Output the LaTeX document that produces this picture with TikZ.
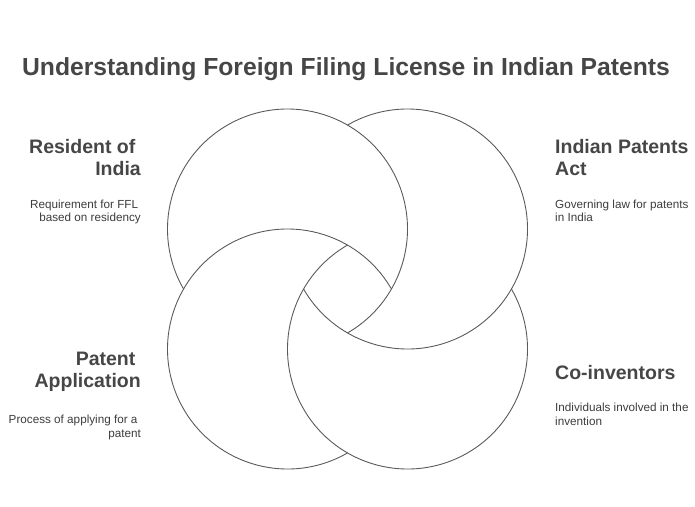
\documentclass[tikz,border=0pt]{standalone}
\usepackage{fontspec}
\setmainfont{Liberation Sans}
\definecolor{ringcol}{HTML}{5A5A5A}
\definecolor{headcol}{HTML}{464646}
\definecolor{desccol}{HTML}{3C3C3C}
\tikzset{
  ring/.style={draw=ringcol, line width=0.9pt},
  titletext/.style={inner sep=0pt, text=headcol, font=\bfseries\fontsize{24.7}{30}\selectfont},
  headtext/.style={inner sep=0pt, text=headcol, font=\bfseries\fontsize{19.5}{23}\selectfont},
  desctext/.style={inner sep=0pt, text=desccol, font=\fontsize{11.7}{14}\selectfont},
}
\begin{document}
\begin{tikzpicture}[x=1pt, y=-1pt]
\useasboundingbox (0,0) rectangle (695,506);
% centres
\coordinate (TL) at (287.5,229);
\coordinate (TR) at (407.5,229);
\coordinate (BL) at (287.5,349);
\coordinate (BR) at (407.5,349);
% interlocking rings (each hides one quarter)
\draw[ring] (TL) ++(150:120) arc[start angle=150, end angle=420, radius=120];
\draw[ring] (TR) ++(240:120) arc[start angle=240, end angle=510, radius=120];
\draw[ring] (BR) ++(-30:120) arc[start angle=-30, end angle=240, radius=120];
\draw[ring] (BL) ++(60:120) arc[start angle=60, end angle=330, radius=120];
% title
\node[titletext, anchor=base] (title) at (346,75) {Understanding Foreign Filing License in Indian Patents};
% top left
\node[headtext, anchor=base east] (h1a) at (135.6,153.5) {Resident of};
\node[headtext, anchor=base east] (h1b) at (141,175.5) {India};
\node[desctext, anchor=base east] (d1a) at (138.3,208) {Requirement for FFL};
\node[desctext, anchor=base east] (d1b) at (141,221.5) {based on residency};
% top right
\node[headtext, anchor=base west] (h2a) at (555,153.5) {Indian Patents};
\node[headtext, anchor=base west] (h2b) at (555,175.5) {Act};
\node[desctext, anchor=base west] (d2a) at (555,208) {Governing law for patents};
\node[desctext, anchor=base west] (d2b) at (555,221.5) {in India};
% bottom left
\node[headtext, anchor=base east] (h3a) at (135.6,365.5) {Patent};
\node[headtext, anchor=base east] (h3b) at (141,387) {Application};
\node[desctext, anchor=base east] (d3a) at (137.7,423) {Process of applying for a};
\node[desctext, anchor=base east] (d3b) at (141,437) {patent};
% bottom right
\node[headtext, anchor=base west] (h4a) at (555,379) {Co-inventors};
\node[desctext, anchor=base west] (d4a) at (555,411.5) {Individuals involved in the};
\node[desctext, anchor=base west] (d4b) at (555,425) {invention};
\end{tikzpicture}
\end{document}
